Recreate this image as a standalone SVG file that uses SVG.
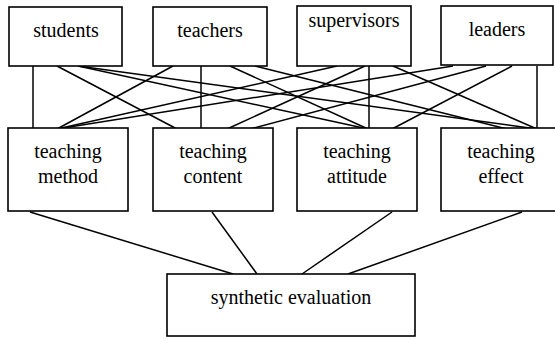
<svg xmlns="http://www.w3.org/2000/svg" width="555" height="339" viewBox="0 0 555 339">
<style>
rect{fill:#fff;stroke:#000;stroke-width:1.6}
line{stroke:#000;stroke-width:1.5}
text{font-family:'Times New Roman','Liberation Serif',Tinos,'DejaVu Serif',serif;font-size:20px;fill:#000;text-anchor:middle}
</style>
<rect x="0" y="0" width="555" height="339" style="stroke:none"/>
<g id="connectors">
<line x1="33" y1="66" x2="33" y2="129"/>
<line x1="57" y1="66" x2="177" y2="129"/>
<line x1="78" y1="66" x2="368" y2="129"/>
<line x1="78" y1="66" x2="537" y2="129"/>
<line x1="173" y1="66" x2="57" y2="129"/>
<line x1="201" y1="66" x2="201" y2="129"/>
<line x1="230" y1="66" x2="368" y2="129"/>
<line x1="255" y1="66" x2="507" y2="129"/>
<line x1="337" y1="66" x2="57" y2="129"/>
<line x1="365" y1="66" x2="227" y2="129"/>
<line x1="369" y1="66" x2="369" y2="129"/>
<line x1="393" y1="66" x2="537" y2="129"/>
<line x1="453" y1="66" x2="57" y2="129"/>
<line x1="486" y1="66" x2="250" y2="129"/>
<line x1="512" y1="66" x2="392" y2="129"/>
<line x1="537" y1="66" x2="537" y2="129"/>
<line x1="30" y1="212" x2="233" y2="274"/>
<line x1="212" y1="212" x2="257" y2="274"/>
<line x1="392" y1="212" x2="302" y2="274"/>
<line x1="522" y1="212" x2="348" y2="274"/>
</g>
<g id="students"><rect x="9" y="7" width="113" height="59"/><text x="66" y="37">students</text></g>
<g id="teachers"><rect x="153" y="7" width="114" height="59"/><text x="210" y="37">teachers</text></g>
<g id="supervisors"><rect x="297" y="6" width="114" height="60"/><text x="354" y="27">supervisors</text></g>
<g id="leaders"><rect x="441" y="6" width="112" height="59"/><text x="497" y="36">leaders</text></g>
<g id="method"><rect x="8" y="128" width="120" height="83"/><text x="68" y="158">teaching</text><text x="68" y="183">method</text></g>
<g id="content"><rect x="153" y="128" width="120" height="83"/><text x="213" y="158">teaching</text><text x="213" y="183">content</text></g>
<g id="attitude"><rect x="297" y="128" width="120" height="83"/><text x="357" y="158">teaching</text><text x="357" y="183">attitude</text></g>
<g id="effect"><rect x="441" y="128" width="120" height="83"/><text x="501" y="158">teaching</text><text x="501" y="183">effect</text></g>
<g id="synthetic"><rect x="167" y="274" width="248" height="62"/><text x="291" y="304">synthetic evaluation</text></g>
</svg>
